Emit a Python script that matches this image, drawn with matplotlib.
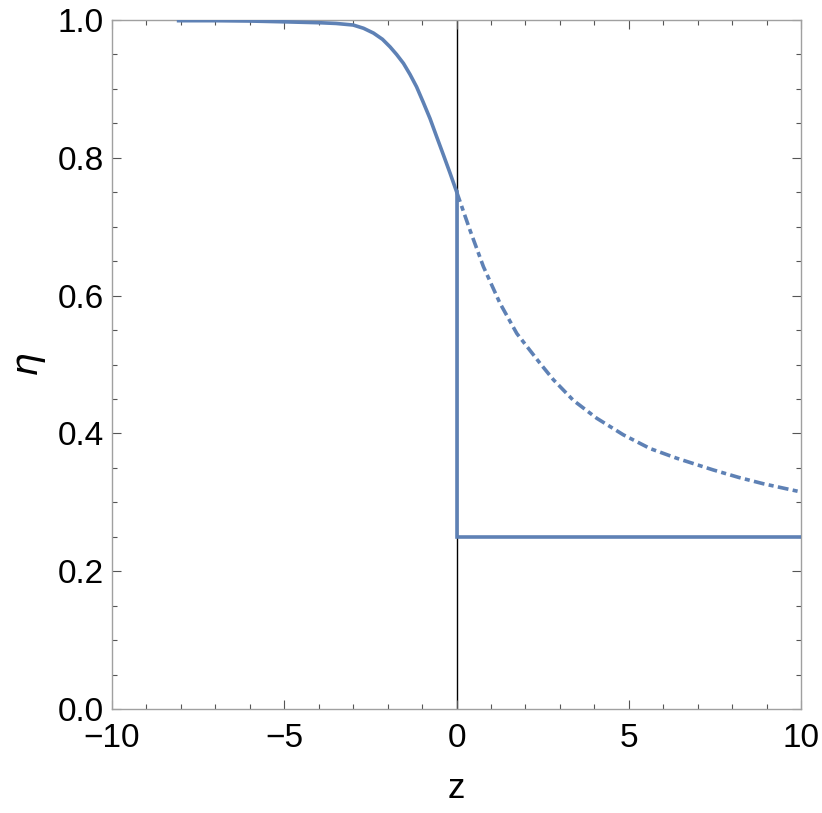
import matplotlib
matplotlib.use("Agg")
import matplotlib.pyplot as plt
from matplotlib.ticker import MultipleLocator

plt.rcParams['font.family'] = ['Liberation Sans', 'DejaVu Sans']

# values
z_left = [-8.12, -7.0, -6.0, -5.12, -3.96, -3.5, -3.0, -2.7, -2.41, -2.15, -1.93,
          -1.74, -1.54, -1.35, -1.16, -0.97, -0.77, -0.58, -0.38, -0.19, 0.0]
eta_left = [0.999, 0.999, 0.9985, 0.9975, 0.996, 0.995, 0.9927, 0.988, 0.981, 0.972, 0.961,
            0.950, 0.937, 0.921, 0.903, 0.881, 0.857, 0.831, 0.804, 0.778, 0.751]

z_right = [0.0, 0.39, 0.78, 1.26, 1.75, 2.42, 2.81, 3.39, 4.07, 4.84, 5.62, 6.39,
           7.45, 8.2, 8.9, 10.0]
eta_right = [0.751, 0.695, 0.642, 0.589, 0.545, 0.502, 0.478, 0.448, 0.422, 0.398, 0.378,
             0.364, 0.347, 0.336, 0.327, 0.315]

z_step = [0.0, 0.0, 10.0]
eta_step = [0.751, 0.25, 0.25]

blue = '#5e81b5'
frame = '#a0a0a0'

fig = plt.figure(figsize=(8.22, 8.13), dpi=100)
ax = fig.add_axes([0.1363, 0.1279, 0.8382, 0.8475])

ax.axvline(0, color='black', lw=1.0, zorder=1)
ax.plot(z_left, eta_left, color=blue, lw=2.6, solid_capstyle='butt', zorder=3)
ax.plot(z_right, eta_right, color=blue, lw=2.6, linestyle=(0, (3.0, 1.2, 1.4, 1.2)), zorder=3)
ax.plot(z_step, eta_step, color=blue, lw=2.6, solid_joinstyle='miter', zorder=3)

ax.set_xlim(-10, 10)
ax.set_ylim(0, 1)
ax.xaxis.set_major_locator(MultipleLocator(5))
ax.xaxis.set_minor_locator(MultipleLocator(1))
ax.yaxis.set_major_locator(MultipleLocator(0.2))
ax.yaxis.set_minor_locator(MultipleLocator(0.05))
ax.xaxis.set_major_formatter(plt.FuncFormatter(lambda v, p: ('%d' % v).replace('-', '\u2212')))
ax.yaxis.set_major_formatter(plt.FuncFormatter(lambda v, p: '%.1f' % v))

for s in ax.spines.values():
    s.set_color(frame)
    s.set_linewidth(1.0)
ax.tick_params(which='both', direction='in', top=True, right=True, color='#555555',
               labelsize=24, labelcolor='black', width=0.8)
ax.tick_params(which='major', length=6.5)
ax.tick_params(which='minor', length=3.5)
ax.tick_params(axis='x', which='major', pad=10)
ax.tick_params(axis='y', which='major', pad=6)

ax.set_xlabel('z', fontsize=25, va='center')
ax.xaxis.set_label_coords(0.5, -0.115)
ax.set_ylabel('$\\eta$', fontsize=27, labelpad=7)

fig.savefig('out.png', dpi=100)
